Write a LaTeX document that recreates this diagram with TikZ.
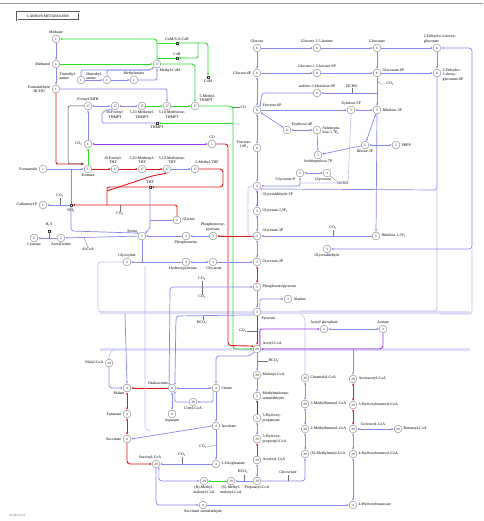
\documentclass[tikz,border=0pt]{standalone}
\usepackage{fontspec}
\setmainfont{Liberation Serif}
\usetikzlibrary{arrows.meta,calc}
\definecolor{lav}{RGB}{135,135,240}
\definecolor{lavl}{RGB}{190,190,242}
\definecolor{bandc}{RGB}{222,222,248}
\definecolor{grn}{RGB}{40,220,40}
\definecolor{rdd}{RGB}{230,20,20}
\definecolor{pur}{RGB}{160,60,235}
\begin{document}
\begin{tikzpicture}[x=1pt,y=-1pt,
 cn/.style={circle,draw=black!55,fill=white,line width=0.35pt,inner sep=0pt,minimum size=7.8pt,font=\fontsize{3.4}{3.4}\selectfont},
 sq/.style={rectangle,draw=black!80,fill=white,line width=0.35pt,inner sep=0pt,minimum size=2.6pt},
 lb/.style={font=\fontsize{3.9}{4.2}\selectfont,inner sep=0.4pt,align=center},
 lbl/.style={lb,align=left},
 ln/.style={draw=lav,line width=0.7pt},
 fr/.style={draw=lavl,line width=0.6pt,rounded corners=3pt},
 gr/.style={draw=grn,line width=0.9pt},
 rd/.style={draw=rdd,line width=0.9pt},
 pu/.style={draw=pur,line width=0.9pt},
 bk/.style={draw=black!75,line width=0.5pt},
 tk/.style={draw=black!55,line width=0.3pt},
 ar/.style={-{Latex[length=2.3pt,width=2pt]}},
 ba/.style={{Latex[length=2.3pt,width=2pt]}-{Latex[length=2.3pt,width=2pt]}},
 band/.style={draw=bandc,line width=3pt}
]
\fill[white] (0,0) rectangle (483,521);
\path[use as bounding box] (0,0) rectangle (483,521);
\draw[black!40,line width=0.9pt] (0,3) -- (483,3);
\node[draw=black!65,double=white,double distance=0.5pt,line width=0.35pt,fill=white,inner sep=1.3pt,font=\fontsize{3.8}{4}\selectfont,minimum width=62pt,minimum height=8pt] (title) at (48,16) {CARBON METABOLISM};
\node[font=\fontsize{3}{3}\selectfont,text=black!60,anchor=south west] (code) at (6,520) {01200 3/6/15};

% ---------- bands ----------
\draw[band] (100,312) -- (470,312);
\draw[band] (100,349) -- (470,349);

% ---------- nodes ----------
\node[cn] (methane) at (56,39) {1};
\node[cn] (methanol) at (56,64) {1};
\node[cn] (hcho) at (56,89) {1};
\node[cn] (tma) at (81,80) {1};
\node[cn] (dma) at (107,80) {1};
\node[cn] (mam) at (134,80) {1};
\node[cn] (mcom) at (157,64) {17};
\node[cn] (fmfr) at (88,106) {17};
\node[cn] (fthm) at (115,106) {17};
\node[cn] (methm) at (142,106) {17};
\node[cn] (mlthm) at (167,106) {17};
\node[cn] (mthm) at (195,106) {17};
\node[sq] (thmpt) at (157,123) {};
\node[sq] (comss) at (177,43) {};
\node[sq] (cob) at (177,58) {};
\node[sq] (com) at (208,77) {};
\node[cn] (glc) at (257,48) {6};
\node[cn] (gl15) at (317,48) {6};
\node[cn] (glcn) at (377,48) {6};
\node[cn] (kdg) at (437,48) {6};
\node[cn] (g6p) at (257,73) {6};
\node[cn] (gl15p) at (317,73) {6};
\node[cn] (glcn6p) at (377,73) {6};
\node[cn] (kdpg) at (437,73) {6};
\node[cn] (hu6p) at (317,93) {6};
\node[cn] (f6p) at (257,110) {6};
\node[cn] (e4p) at (287,130) {6};
\node[cn] (s17p) at (317,130) {5};
\node[cn] (x5p) at (351,110) {5};
\node[cn] (ru5p) at (377,110) {5};
\node[cn] (r5p) at (365,145) {5};
\node[cn] (prpp) at (396,145) {5};
\node[cn] (s7p) at (318,155) {5};
\node[cn] (glycp) at (300,173) {3};
\node[cn] (glycerone) at (327,173) {3};
\node[cn] (f16p) at (257,148) {6};
\node[cn] (g3p) at (257,186) {3};
\node[cn] (bpg) at (257,211) {3};
\node[cn] (pg3) at (257,236) {3};
\node[cn] (pg2) at (257,262) {3};
\node[cn] (pep) at (257,287) {3};
\node[cn] (pyr) at (257,312) {3};
\node[cn] (ala) at (288,299) {3};
\node[cn] (accoa) at (257,349) {29};
\node[cn] (malcoa) at (257,375) {29};
\node[cn] (mmsa) at (257,396) {3};
\node[cn] (hp3) at (257,418) {3};
\node[cn] (hpcoa) at (257,439) {29};
\node[cn] (acrcoa) at (257,460) {29};
\node[cn] (propcoa) at (257,481) {29};
\node[cn] (smm) at (231,481) {29};
\node[cn] (rmm) at (204,481) {29};
\node[cn] (ru15) at (376,236) {5};
\node[cn] (glyald) at (327,249) {3};
\node[cn] (co2c) at (88,144) {1};
\node[cn] (co) at (212,144) {1};
\node[cn] (formate) at (88,169) {1};
\node[cn] (formamide) at (43,169) {1};
\node[cn] (fthf) at (115,169) {17};
\node[cn] (methf) at (142,169) {17};
\node[cn] (mlthf) at (167,169) {17};
\node[cn] (mthf) at (195,169) {17};
\node[sq] (thf) at (150,187) {};
\node[cn] (carbp) at (43,205) {1};
\node[sq] (nh3) at (71,205) {};
\node[cn] (cys) at (34,238) {2};
\node[cn] (acser) at (61,238) {2};
\node[sq] (h2s) at (49,231) {};
\node[cn] (ser) at (142,236) {2};
\node[cn] (gly) at (177,220) {2};
\node[cn] (pser) at (186,236) {3};
\node[cn] (phpyr) at (213,236) {3};
\node[cn] (glyox) at (127,262) {2};
\node[cn] (hpyr) at (186,262) {3};
\node[cn] (glyc) at (213,262) {3};
\node[cn] (acp) at (324,329) {2};
\node[cn] (acet) at (383,329) {2};
\node[cn] (acacoa) at (353,379) {29};
\node[cn] (hbcoa) at (353,405) {29};
\node[cn] (crocoa) at (353,429) {29};
\node[cn] (butcoa) at (398,429) {29};
\node[cn] (hbucoa) at (353,454) {29};
\node[cn] (hbut) at (353,505) {4};
\node[cn] (citmal) at (305,378) {29};
\node[cn] (mfc3) at (305,404) {29};
\node[cn] (mfc2) at (305,429) {29};
\node[cn] (mmal) at (305,454) {29};
\node[cn] (oaa) at (172,388) {4};
\node[cn] (mal) at (127,388) {4};
\node[cn] (fum) at (127,414) {4};
\node[cn] (suc) at (127,439) {4};
\node[cn] (succoa) at (156,464) {29};
\node[cn] (cit) at (216,388) {4};
\node[cn] (citcoa) at (193,402) {29};
\node[cn] (asp) at (172,414) {4};
\node[cn] (icit) at (216,426) {4};
\node[cn] (oxg) at (216,464) {3};
\node[cn] (malylcoa) at (109,363) {29};
\node[cn] (ssa) at (203,505) {4};

% ---------- connectors ----------
\draw[ln,ar] (methane) -- (methanol);
\draw[ln,ar] (methanol) -- (hcho);
\draw[ln,ar] (tma) -- (dma);
\draw[ln,ar] (dma) -- (mam);
\draw[ln,ar,rounded corners=2pt] (mam.east) -| (mcom.south);
\draw[ln,ar,rounded corners=2pt] (tma.north) |- (150,70) -- (mcom.south west);
\draw[ln,rounded corners=2pt] (dma.north) |- (150,70);
\draw[ln,ar,rounded corners=2pt] (hcho.east) -| (mlthm.north);
\draw[ln,ba] (fmfr) -- (fthm);
\draw[ln,ba] (fthm) -- (methm);
\draw[gr,ar] (methm) -- (mlthm);
\draw[gr,ar] (mlthm) -- (mthm);
\draw[ln,ar] (co2c) -- (fmfr);
\coordinate (fin) at (84,164);
\draw[rd,ar,rounded corners=2pt] (hcho.south) -- (56,164) -- (fin);
\draw[bk,ar,rounded corners=2pt] (fmfr.west) -- (68,106) -- (68,164) -- (fin);
\draw[gr,ar] (methanol) -- (mcom);
\draw[gr,ar,rounded corners=3pt] (mcom.north) -- (157,39) -- (methane.east);
\draw[gr] (157,43) -- (comss.west);
\draw[gr,ar,rounded corners=3pt] (comss.east) -- (208,43) -- (com.north);
\draw[gr,ar,rounded corners=2pt] (198,43) -- (198,58) -- (cob.east);
\draw[gr] (cob.west) -- (157,58);
\draw[gr,ar,rounded corners=3pt] (mcom.east) -- (195,64) -- (mthm.north);
\draw[gr,ar,rounded corners=3pt] (mthm.east) -- (233,106) -- (233,349) -- (accoa.west);
\draw[ln,rounded corners=2pt] (fthm.south west) -- (102,112) -- (102,123) -- (thmpt.west);
\draw[gr,ar] (233,123) -- (thmpt.east);
\node[lb,anchor=west] (lco) at (240,107) {CO};
\draw[tk] (233,107) -- (lco.west);
\draw[gr,ar] (formate) -- (co2c);
\draw[pu,ba] (co2c) -- (co);
\draw[ln,ar] (formamide) -- (formate);
\draw[rd,ar] (formate) -- (fthf);
\draw[rd,ar] (fthf) -- (methf);
\draw[rd,ar] (methf) -- (mlthf);
\draw[ln,ar] (mlthf) -- (mthf);
\draw[rd,ar,rounded corners=3pt] (co.east) -- (228,144) -- (228,345.5) -- (accoa.north west);
\draw[rd,ar,rounded corners=3pt] (mthf.east) -- (223,169) -- (223,187) -- (thf.east);
\draw[rd,rounded corners=2pt] (thf.west) -- (107,187) -- (107,205);
\draw[rd,ar,rounded corners=2pt] (107,191) -- (152,176) -- (mlthf.south);
\draw[rd,ar,rounded corners=2pt] (gly.north) |- (nh3.east);
\node[lb] (lco2e) at (120,214) {CO\textsubscript{2}};
\draw[tk] (lco2e.north) -- (120,205);
\draw[ln,ar] (nh3) -- (carbp);
\node[lb] (lco2d) at (60,196) {CO\textsubscript{2}};
\draw[tk] (lco2d.south) -- (60,205);
\node[lb] (lnh3) at (71,211) {NH\textsubscript{3}};
\draw[ln] (71,169) -- (nh3.north);
\draw[ln,ar,rounded corners=3pt] (nh3.south) -- (71,231) -- (ser.north west);
\draw[ln,ar] (ser) -- (acser);
\draw[ln,ar] (acser) -- (cys);
\node[lb] (lacc) at (88,249) {AcCoA};
\draw[tk] (lacc.north) -- (84,237.6);
\node[lb] (lh2s) at (49,225) {H\textsubscript{2}S};
\draw[tk] (h2s) -- (49,238.5);
\draw[ln,ar,rounded corners=2pt] (thf.south) -- (150,229) -- (ser.north east);
\draw[ln] (gly.west) -- (150,220);
\draw[ln,ar] (pser) -- (ser);
\draw[ln,ar] (phpyr) -- (pser);
\draw[rd,ar] (pg3) -- (phpyr);
\draw[ln] (ser.south) -- (142,262);
\draw[ln,ar] (hpyr) -- (glyox);
\draw[ln,ba] (glyc) -- (hpyr);
\draw[ln,ar] (glyc) -- (pg2);
\draw[ln,ar] (glc) -- (gl15);
\draw[ln,ar] (gl15) -- (glcn);
\draw[ln,ar] (glcn) -- (kdg);
\draw[ln,ar] (glc) -- (g6p);
\draw[ln,ar] (g6p) -- (gl15p);
\draw[ln,ar] (gl15p) -- (glcn6p);
\draw[ln,ar] (glcn6p) -- (kdpg);
\draw[ln,ar] (glcn) -- (glcn6p);
\draw[ln,ar] (kdg) -- (kdpg);
\draw[ln,ar] (glcn6p) -- (ru5p);
\node[lb,anchor=west] (lco2a) at (386,84) {CO\textsubscript{2}};
\draw[tk] (377,81) -- (381,84) -- (lco2a.west);
\draw[ln,ba] (g6p) -- (f6p);
\draw[ln,ba] (f6p) -- (f16p);
\draw[ln,ar] (f16p) -- (g3p);
\draw[ln,ar] (f6p) -- (x5p);
\draw[ln,ba] (x5p) -- (ru5p);
\draw[ln,ar] (377,93) -- (hu6p.east);
\node[lb] (lhcho1) at (352,86) {HCHO};
\draw[tk] (lhcho1.south) -- (352,93);
\draw[ln,ar,rounded corners=3pt] (hu6p.west) -- (262,93) -- (f6p.north east);
\draw[ln,ba] (f6p) -- (e4p);
\draw[ln,ba] (e4p) -- (s17p);
\draw[ln,ar] (s17p) -- (s7p);
\draw[ln,ba] (r5p) -- (ru5p);
\draw[ln,ba] (r5p) -- (prpp);
\draw[ln,ar] (r5p) -- (s7p);
\draw[ln,ar] (ru5p) -- (ru15);
\draw[ln,ba,rounded corners=2pt] (glycp.south) |- (g3p.east);
\draw[ln,ba] (glycp) -- (glycerone);
\node[lb] (lhcho2) at (343,183) {HCHO};
\draw[tk] (lhcho2.north west) -- (glycerone.south east);
\draw[ln,ar,rounded corners=3pt] (kdpg.south) -- (437,190) -- (g3p.south east);
\draw[fr] (437,190) -- (437,311) -- (300,311);
\draw[ln,ba,rounded corners=3pt] (kdg.east) -- (472,48) -- (472,249) -- (glyald.east);
\draw[fr] (472,249) -- (472,314) -- (440,314);
\draw[fr] (x5p.south) -- (348,183) -- (300,183);
\draw[fr] (g3p.west) -- (248,186) -- (248,236) -- (pg3.west);
\draw[pu,ba] (g3p) -- (bpg);
\draw[ln,ba] (bpg) -- (pg3);
\draw[ln,ba] (pg3) -- (pg2);
\draw[rd,ba] (pg2) -- (pep);
\draw[ln,ar] (pep) -- (pyr);
\draw[rd,ar] (pyr) -- (accoa);
\node[lb] (lco2g) at (243,331) {CO\textsubscript{2}};
\draw[tk] (lco2g.east) -- (257,331);
\draw[ln,ar,rounded corners=2pt] (pyr.north east) |- (ala.west);
\draw[ln,ar] (ru15) -- (pg3);
\node[lb] (lco2b) at (333,228) {CO\textsubscript{2}};
\draw[tk] (lco2b.south) -- (333,236);
\draw[ln,ba,rounded corners=3pt] (pep.west) -- (170,287) -- (oaa.north west);
\node[lb] (lco2h) at (202,279) {CO\textsubscript{2}};
\draw[tk] (lco2h.south) -- (202,287);
\node[lb] (lco2i) at (202,297) {CO\textsubscript{2}};
\draw[tk] (lco2i.north) -- (202,287);
\draw[ln,ar,rounded corners=3pt] (pyr.south west) -- (176,316) -- (oaa.north east);
\node[lb] (lhco3a) at (203,323) {HCO\textsubscript{3}\textsuperscript{−}};
\draw[tk] (lhco3a.north) -- (203,316);
\draw[ln,ar,rounded corners=3pt] (accoa.south west) -- (250,356) -- (216,356) -- (cit.north);
\draw[ln,ar] (accoa) -- (malcoa);
\node[lb,anchor=west] (lhco3b) at (268,361) {HCO\textsubscript{3}\textsuperscript{−}};
\draw[tk] (lhco3b.west) -- (257,361);
\draw[ln,ar] (malcoa) -- (mmsa);
\draw[bk,ar] (hp3) -- (mmsa);
\draw[ln,ba] (hpcoa) -- (hp3);
\draw[rd,ar] (acrcoa) -- (hpcoa);
\draw[ln,ba] (propcoa) -- (acrcoa);
\draw[ln,ar] (propcoa) -- (smm);
\draw[gr,ar] (smm) -- (rmm);
\node[lb] (lhco3c) at (244,472) {HCO\textsubscript{3}\textsuperscript{−}};
\draw[tk] (lhco3c.south) -- (244,481);
\draw[ln,ar,rounded corners=3pt] (propcoa.east) -- (305,481) -- (mmal.south);
\node[lb] (lglyox2) at (288,473) {Glyoxylate};
\draw[tk] (lglyox2.south) -- (288,481);
\draw[ln,ba] (mmal) -- (mfc2);
\draw[ln,ba] (mfc2) -- (mfc3);
\draw[ln,ba] (mfc3) -- (citmal);
\draw[fr] (citmal.north) -- (305,318) -- (300,313);
\draw[pu,ar,rounded corners=2pt] (accoa.north east) |- (acp.west);
\draw[pu,ar,rounded corners=3pt] (acet.south) -- (383,349) -- (accoa.east);
\draw[ln,ba] (acp) -- (acet);
\draw[ln,ar] (353,349) -- (acacoa.north);
\draw[rd,ba] (acacoa) -- (hbcoa);
\draw[rd,ba] (hbcoa) -- (crocoa);
\draw[ln,ba] (crocoa) -- (butcoa);
\draw[ln,ba] (crocoa) -- (hbucoa);
\draw[ln,ba] (hbucoa) -- (hbut);
\draw[ln,ar] (ssa) -- (hbut);
\draw[ln,ar,rounded corners=3pt] (succoa.south) -- (156,505) -- (ssa.west);
\draw[ln,ba,rounded corners=3pt] (succoa.south east) |- (rmm.west);
\draw[rd,ar] (oaa) -- (mal);
\draw[rd,ba] (mal) -- (fum);
\draw[rd,ba] (fum) -- (suc);
\draw[rd,ar,rounded corners=3pt] (suc.south) -- (127,464) -- (succoa.west);
\draw[ln,ba] (oaa) -- (cit);
\draw[ln,ar,rounded corners=2pt] (cit.south west) |- (citcoa.east);
\draw[ln,ar,rounded corners=2pt] (citcoa.west) -| (oaa.south east);
\draw[ln,ba] (oaa) -- (asp);
\draw[ln,ar] (cit) -- (icit);
\draw[ln,ar] (icit) -- (oxg);
\node[lb] (lco2j) at (203,447) {CO\textsubscript{2}};
\draw[tk] (lco2j.east) -- (216,445);
\draw[ln,ar] (oxg) -- (succoa);
\node[lb] (lco2k) at (182,455) {CO\textsubscript{2}};
\draw[tk] (lco2k.south) -- (182,464);
\draw[ln,ar] (icit.west) -- (suc.east);
\draw[ln,ar,rounded corners=3pt] (malylcoa.south) |- (mal.west);
\draw[fr] (malylcoa.north) -- (109,354) -- (114,349);
\draw[fr] (glyox.west) -- (98,262) -- (98,312) -- (104,312);
\draw[fr] (145,266) -- (145,429) -- (150,431);
\draw[ln,ar] (125,314) -- (mal.north);

% ---------- labels ----------
\node[lb,anchor=south] (l1) at (56,34.5) {Methane};
\node[lb,anchor=east] (l2) at (51,64) {Methanol};
\node[lb,anchor=east] (l3) at (51,89) {Formaldehyde\\HCHO};
\node[lbl,anchor=east] (l4) at (77,76) {Trimethyl-\\amine};
\node[lbl,anchor=east] (l5) at (103,76) {Dimethyl-\\amine};
\node[lb,anchor=south] (l6) at (134,75.5) {Methylamine};
\node[lb,anchor=west] (l7) at (159,71) {Methyl-CoM};
\node[lb,anchor=south] (l8) at (88,101.5) {Formyl-MFR};
\node[lb,anchor=north] (l9) at (115,110.5) {10-Formyl-\\THMPT};
\node[lb,anchor=north] (l10) at (142,110.5) {5,10-Methenyl-\\THMPT};
\node[lb,anchor=north] (l11) at (172,110.5) {5,10-Methylene-\\THMPT};
\node[lbl,anchor=west] (l12) at (199,98) {5-Methyl-\\THMPT};
\node[lb,anchor=north] (l13) at (157,125) {THMPT};
\node[lb,anchor=south] (l14) at (177,41) {CoM-S-S-CoB};
\node[lb,anchor=south] (l15) at (177,56) {CoB};
\node[lb,anchor=north] (l16) at (208,79.5) {CoM};
\node[lb,anchor=south] (l17) at (257,43.5) {Glucose};
\node[lb,anchor=south] (l18) at (317,43.5) {Glucono-1,5-lactone};
\node[lb,anchor=south] (l19) at (377,43.5) {Gluconate};
\node[lbl,anchor=south] (l20) at (440,43.5) {2-Dehydro-3-deoxy-\\gluconate};
\node[lb,anchor=east] (l21) at (252,73) {Glucose-6P};
\node[lb,anchor=south] (l22) at (317,68.5) {Glucono-1,5-lactone-6P};
\node[lb,anchor=west] (l23) at (382,70) {Gluconate-6P};
\node[lbl,anchor=west] (l24) at (442,75) {2-Dehydro-\\3-deoxy-\\gluconate-6P};
\node[lb,anchor=south] (l25) at (317,88.5) {arabino-3-Hexulose-6P};
\node[lb,anchor=west] (l26) at (262,105) {Fructose-6P};
\node[lb,anchor=west] (l27) at (291,125) {Erythrose-4P};
\node[lbl,anchor=west] (l28) at (322,131) {Sedoheptu-\\lose-1,7P\textsubscript{2}};
\node[lb,anchor=south] (l29) at (351,105.5) {Xylulose-5P};
\node[lb,anchor=west] (l30) at (382,110) {Ribulose-5P};
\node[lb,anchor=north] (l31) at (365,149.5) {Ribose-5P};
\node[lb,anchor=west] (l32) at (401,145) {PRPP};
\node[lb,anchor=north] (l33) at (318,159.5) {Sedoheptulose-7P};
\node[lb,anchor=north] (l34) at (323,177.5) {Glycerone};
\node[lb,anchor=east] (l35) at (296,180) {Glycerone-P};
\node[lb,anchor=east] (l36) at (252,145) {Fructose-\\1,6P\textsubscript{2}};
\node[lb,anchor=west] (l37) at (262,195) {Glyceraldehyde-3P};
\node[lb,anchor=west] (l38) at (262,211) {Glycerate-1,3P\textsubscript{2}};
\node[lb,anchor=west] (l39) at (262,230.5) {Glycerate-3P};
\node[lb,anchor=west] (l40) at (262,262) {Glycerate-2P};
\node[lb,anchor=west] (l41) at (262,287) {Phosphoenolpyruvate};
\node[lb,anchor=west] (l42) at (293,299) {Alanine};
\node[lb,anchor=north west] (l43) at (261,316) {Pyruvate};
\node[lb,anchor=west] (l44) at (262,343.5) {Acetyl-CoA};
\node[lb,anchor=west] (l45) at (262,375) {Malonyl-CoA};
\node[lbl,anchor=west] (l46) at (262,396) {Methylmalonate-\\semialdehyde};
\node[lbl,anchor=west] (l47) at (262,418) {3-Hydroxy-\\propanoate};
\node[lbl,anchor=west] (l48) at (262,439) {3-Hydroxy-\\propionyl-CoA};
\node[lb,anchor=west] (l49) at (262,460) {Acryloyl-CoA};
\node[lb,anchor=north] (l50) at (257,485.5) {Propanoyl-CoA};
\node[lb,anchor=north] (l51) at (231,485.5) {(S)-Methyl-\\malonyl-CoA};
\node[lb,anchor=north] (l52) at (204,485.5) {(R)-Methyl-\\malonyl-CoA};
\node[lb,anchor=north] (l53) at (203,509.5) {Succinate semialdehyde};
\node[lb,anchor=west] (l54) at (381,236) {Ribulose-1,5P\textsubscript{2}};
\node[lb,anchor=north] (l55) at (327,253.5) {Glyceraldehyde};
\node[lb,anchor=east] (l56) at (83,144) {CO\textsubscript{2}};
\node[lb,anchor=south] (l57) at (212,139.5) {CO};
\node[lb,anchor=north] (l58) at (88,173.5) {Formate};
\node[lb,anchor=east] (l59) at (38,169) {Formamide};
\node[lb,anchor=south] (l60) at (113,164.5) {10-Formyl-\\THF};
\node[lb,anchor=south] (l61) at (142,164.5) {5,10-Methenyl-\\THF};
\node[lb,anchor=south] (l62) at (172,164.5) {5,10-Methylene-\\THF};
\node[lb,anchor=south] (l63) at (207,164.5) {5-Methyl-THF};
\node[lb,anchor=south] (l64) at (150,184.5) {THF};
\node[lb,anchor=east] (l65) at (38,205) {Carbamoyl-P};
\node[lb,anchor=north] (l66) at (34,242.5) {Cysteine};
\node[lb,anchor=north] (l67) at (61,242.5) {Acetylserine};
\node[lb,anchor=east] (l68) at (138,231) {Serine};
\node[lb,anchor=west] (l69) at (182,220) {Glycine};
\node[lb,anchor=north] (l70) at (186,240.5) {Phosphoserine};
\node[lb,anchor=south] (l71) at (213,231.5) {Phosphonooxy-\\pyruvate};
\node[lb,anchor=south] (l72) at (127,257.5) {Glyoxylate};
\node[lb,anchor=north] (l73) at (183,266.5) {Hydroxypyruvate};
\node[lb,anchor=north] (l74) at (214,266.5) {Glycerate};
\node[lb,anchor=south] (l75) at (324,324.5) {Acetyl phosphate};
\node[lb,anchor=south] (l76) at (383,324.5) {Acetate};
\node[lb,anchor=west] (l77) at (358,379) {Acetoacetyl-CoA};
\node[lb,anchor=west] (l78) at (358,405) {3-Hydroxybutanoyl-CoA};
\node[lb,anchor=south] (l79) at (373,427) {Crotonoyl-CoA};
\node[lb,anchor=west] (l80) at (403,429) {Butanoyl-CoA};
\node[lb,anchor=west] (l81) at (358,454) {4-Hydroxybutanoyl-CoA};
\node[lb,anchor=west] (l82) at (358,505) {4-Hydroxybutanoate};
\node[lb,anchor=west] (l83) at (310,378) {Citramalyl-CoA};
\node[lb,anchor=west] (l84) at (310,404) {3-Methylfumaryl-CoA};
\node[lb,anchor=west] (l85) at (310,429) {2-Methylfumaryl-CoA};
\node[lb,anchor=west] (l86) at (310,454) {(S)-Methylmalyl-CoA};
\node[lb,anchor=south] (l87) at (158,385.5) {Oxaloacetate};
\node[lb,anchor=north east] (l88) at (125,391.5) {Malate};
\node[lb,anchor=east] (l89) at (122,414) {Fumarate};
\node[lb,anchor=east] (l90) at (122,439) {Succinate};
\node[lb,anchor=south] (l91) at (150,459.5) {Succinyl-CoA};
\node[lb,anchor=west] (l92) at (221,388) {Citrate};
\node[lb,anchor=north] (l93) at (193,406.5) {Citryl-CoA};
\node[lb,anchor=north] (l94) at (172,418.5) {Aspartate};
\node[lb,anchor=west] (l95) at (221,426) {Isocitrate};
\node[lb,anchor=west] (l96) at (221,464) {2-Oxoglutarate};
\node[lb,anchor=east] (l97) at (104,363) {Malyl-CoA};
\end{tikzpicture}
\end{document}
